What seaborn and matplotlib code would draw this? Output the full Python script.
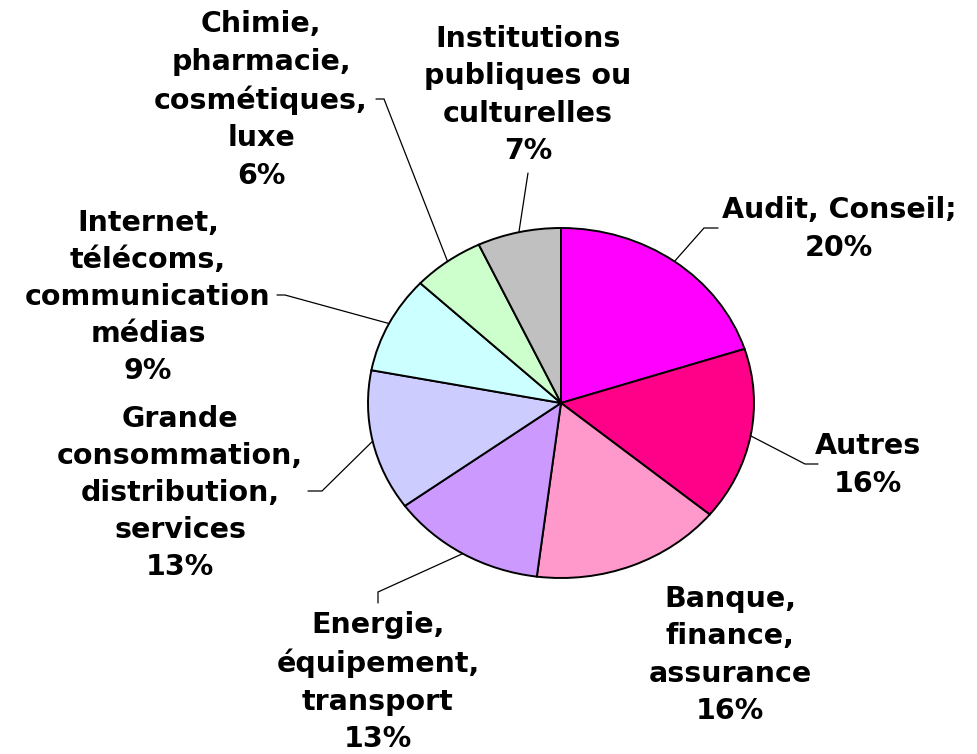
import numpy as np
import matplotlib
matplotlib.use("Agg")
import matplotlib.pyplot as plt
import seaborn as sns

# Sector breakdown (percent)
sectors = [
    "Audit, Conseil;",
    "Autres",
    "Banque,\nfinance,\nassurance",
    "Energie,\néquipement,\ntransport",
    "Grande\nconsommation,\ndistribution,\nservices",
    "Internet,\ntélécoms,\ncommunication\nmédias",
    "Chimie,\npharmacie,\ncosmétiques,\nluxe",
    "Institutions\npubliques ou\nculturelles",
]
shares = [20, 16, 16, 13, 13, 9, 6, 7]
colors = ["#FF00FF", "#FF0088", "#FF99CC", "#CC99FF",
          "#CCCCFF", "#CCFFFF", "#CCFFCC", "#C0C0C0"]

sns.set_theme(style="white")
plt.rcParams["font.family"] = ["DejaVu Sans"]

W, H = 977, 754
fig = plt.figure(figsize=(W / 100, H / 100), dpi=100)
ax = fig.add_axes([0, 0, 1, 1])

# Pie is drawn stretched: horizontal radius RX px, vertical radius RY px
CX, CY, RX, RY = 561, 403, 193, 175

wedges, _ = ax.pie(shares, colors=colors, startangle=90, counterclock=False,
                   wedgeprops=dict(edgecolor="black", linewidth=1.4))
ax.set_aspect("auto")
ax.set_xlim(-CX / RX, (W - CX) / RX)
ax.set_ylim(-(H - CY) / RY, CY / RY)
ax.axis("off")


def px(x, y):
    """Pixel position -> data coordinates."""
    return (x - CX) / RX, (CY - y) / RY


# label block centres and leader-line bend/end points, in pixels
label_pos = [(839, 229), (868, 465), (730, 655), (378, 682),
             (180, 493), (148, 297), (261, 100), (528, 95)]
leaders = [
    [(704, 228), (718, 228)],
    [(805, 464), (818, 464)],
    None,
    [(378, 592), (378, 603)],
    [(322, 491), (308, 491)],
    [(285, 295), (277, 295)],
    [(384, 99), (376, 99)],
    [(528, 173)],
]

for w, name, val, pos, lead in zip(wedges, sectors, shares, label_pos, leaders):
    ax.text(*px(*pos), f"{name}\n{val}%", ha="center", va="center",
            multialignment="center", fontsize=20.5, fontweight="bold",
            color="black", linespacing=1.42)
    if lead:
        mid = np.deg2rad((w.theta1 + w.theta2) / 2)
        pts = [(np.cos(mid), np.sin(mid))] + [px(*p) for p in lead]
        xs, ys = zip(*pts)
        ax.plot(xs, ys, color="black", linewidth=0.9, solid_joinstyle="miter")

fig.savefig("out.png", dpi=100, facecolor="white")
